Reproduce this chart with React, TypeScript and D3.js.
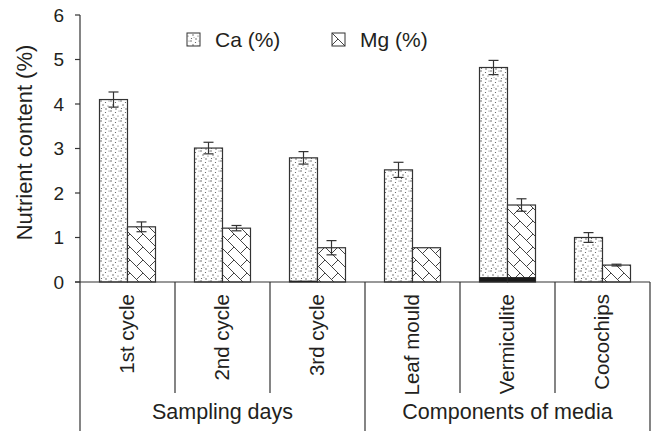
import React from "react";
import * as d3 from "d3";

const categories = ["1st cycle", "2nd cycle", "3rd cycle", "Leaf mould", "Vermiculite", "Cocochips"];
const groupLabels = ["Sampling days", "Components of media"];
const groupSizes = [3, 3];
const seriesNames = ["Ca (%)", "Mg (%)"];
const caValues = [4.1, 3.01, 2.79, 2.52, 4.82, 1.0];
const caErrors = [0.17, 0.13, 0.14, 0.17, 0.16, 0.11];
const mgValues = [1.24, 1.21, 0.77, 0.77, 1.73, 0.38];
const mgErrors = [0.11, 0.06, 0.16, 0, 0.14, 0.02];
const caDark = [0, 0, 0.03, 0, 0.11, 0];
const mgDark = [0, 0, 0, 0, 0.11, 0];
const yTicks = [0, 1, 2, 3, 4, 5, 6];

const W = 654;
const H = 431;
const left = 80;
const right = 650;
const top = 15;
const base = 282;
const textColor = "#231f20";
const lineColor = "#333";
const font = "'Liberation Sans', Arial, sans-serif";

export default function App() {
  const y = d3.scaleLinear().domain([0, 6]).range([base, top]);
  const x = d3.scaleBand<string>().domain(categories).range([left, right]).paddingInner(0).paddingOuter(0);
  const inner = d3.scaleBand<string>().domain(seriesNames).range([19.5, x.bandwidth() - 19.5]).padding(0);

  const series = [
    { name: seriesNames[0], values: caValues, errors: caErrors, dark: caDark, fill: "url(#stipple)" },
    { name: seriesNames[1], values: mgValues, errors: mgErrors, dark: mgDark, fill: "url(#brick)" },
  ];

  let acc = 0;
  const groups = groupLabels.map((g, i) => {
    const start = acc;
    acc += groupSizes[i];
    const x0 = x(categories[start])!;
    const x1 = x(categories[acc - 1])! + x.bandwidth();
    return { label: g, x0, x1 };
  });

  const dots: [number, number, number][] = [
    [1, 1, 0.75], [5.5, 2.5, 0.6], [3, 5, 0.75], [8, 6, 0.6], [1.5, 8.5, 0.6], [6, 9, 0.75], [9, 1, 0.5], [4, 7.5, 0.45],
  ];

  return (
    <svg width={W} height={H} style={{ display: "block", position: "absolute", left: 0, top: 0 }} fontFamily={font}>
      <defs>
        <pattern id="stipple" patternUnits="userSpaceOnUse" width="10" height="10">
          <rect width="10" height="10" fill="#fff" />
          {dots.map((d, i) => (
            <circle key={i} cx={d[0]} cy={d[1]} r={d[2]} fill="#555" />
          ))}
        </pattern>
        <pattern id="brick" patternUnits="userSpaceOnUse" width="13" height="13">
          <rect width="13" height="13" fill="#fff" />
          <path d="M0,0 L13,13 M6.5,6.5 L13,0 M-1,12 L1,14" stroke="#444" strokeWidth="1" fill="none" />
        </pattern>
      </defs>
      <rect width={W} height={H} fill="#fff" />

      {series.map((s) =>
        categories.map((c, i) => {
          const bx = x(c)! + inner(s.name)!;
          const bw = inner.bandwidth();
          const v = s.values[i];
          const e = s.errors[i];
          const cx = bx + bw / 2;
          return (
            <g key={s.name + c}>
              <rect x={bx} y={y(v)} width={bw} height={base - y(v)} fill={s.fill} stroke={lineColor} strokeWidth={1.2} />
              {s.dark[i] > 0 && (
                <rect x={bx} y={y(s.dark[i])} width={bw} height={base - y(s.dark[i])} fill="#1a1a1a" />
              )}
              {e > 0 && (
                <g stroke={lineColor} strokeWidth={1.2}>
                  <line x1={cx} x2={cx} y1={y(v + e)} y2={y(v - e)} />
                  <line x1={cx - 5} x2={cx + 5} y1={y(v + e)} y2={y(v + e)} />
                  <line x1={cx - 5} x2={cx + 5} y1={y(v - e)} y2={y(v - e)} />
                </g>
              )}
            </g>
          );
        })
      )}

      <line x1={left} x2={left} y1={y(6)} y2={H} stroke={lineColor} strokeWidth={1.2} />
      {yTicks.map((t) => (
        <g key={t}>
          <line x1={left - 5} x2={left} y1={y(t)} y2={y(t)} stroke={lineColor} strokeWidth={1.2} />
          <text x={64} y={y(t)} dy="0.36em" textAnchor="end" fontSize={19} fill={textColor}>
            {t}
          </text>
        </g>
      ))}
      <text
        transform={`translate(32,${(top + base) / 2 - 6}) rotate(-90)`}
        textAnchor="middle"
        fontSize={22}
        fill={textColor}
      >
        Nutrient content (%)
      </text>

      <line x1={left - 5} x2={right} y1={base} y2={base} stroke={lineColor} strokeWidth={1.2} />
      {categories.map((c, i) => {
        const xs = x(c)!;
        const isGroupEdge = groups.some((g) => Math.abs(g.x0 - xs) < 0.5);
        return i > 0 && !isGroupEdge ? (
          <line key={c} x1={xs} x2={xs} y1={base} y2={393} stroke={lineColor} strokeWidth={1.2} />
        ) : null;
      })}
      {groups.map((g, i) => (
        <g key={g.label}>
          {i > 0 && <line x1={g.x0} x2={g.x0} y1={base} y2={H} stroke={lineColor} strokeWidth={1.2} />}
          <text x={(g.x0 + g.x1) / 2} y={419} textAnchor="middle" fontSize={21.5} fill={textColor}>
            {g.label}
          </text>
        </g>
      ))}
      <line x1={right} x2={right} y1={base} y2={H} stroke={lineColor} strokeWidth={1.2} />
      {categories.map((c) => (
        <text
          key={c}
          transform={`translate(${x(c)! + x.bandwidth() / 2 - 1},294) rotate(-90)`}
          textAnchor="end"
          dy="0.35em"
          fontSize={20.5}
          fill={textColor}
        >
          {c}
        </text>
      ))}

      {series.map((s, i) => {
        const lx = i === 0 ? 187 : 332;
        return (
          <g key={s.name}>
            <rect x={lx} y={33} width={13} height={13} fill={s.fill} stroke={lineColor} strokeWidth={1} />
            <text x={lx + 28} y={46.5} fontSize={21} fill={textColor}>
              {s.name}
            </text>
          </g>
        );
      })}
    </svg>
  );
}
